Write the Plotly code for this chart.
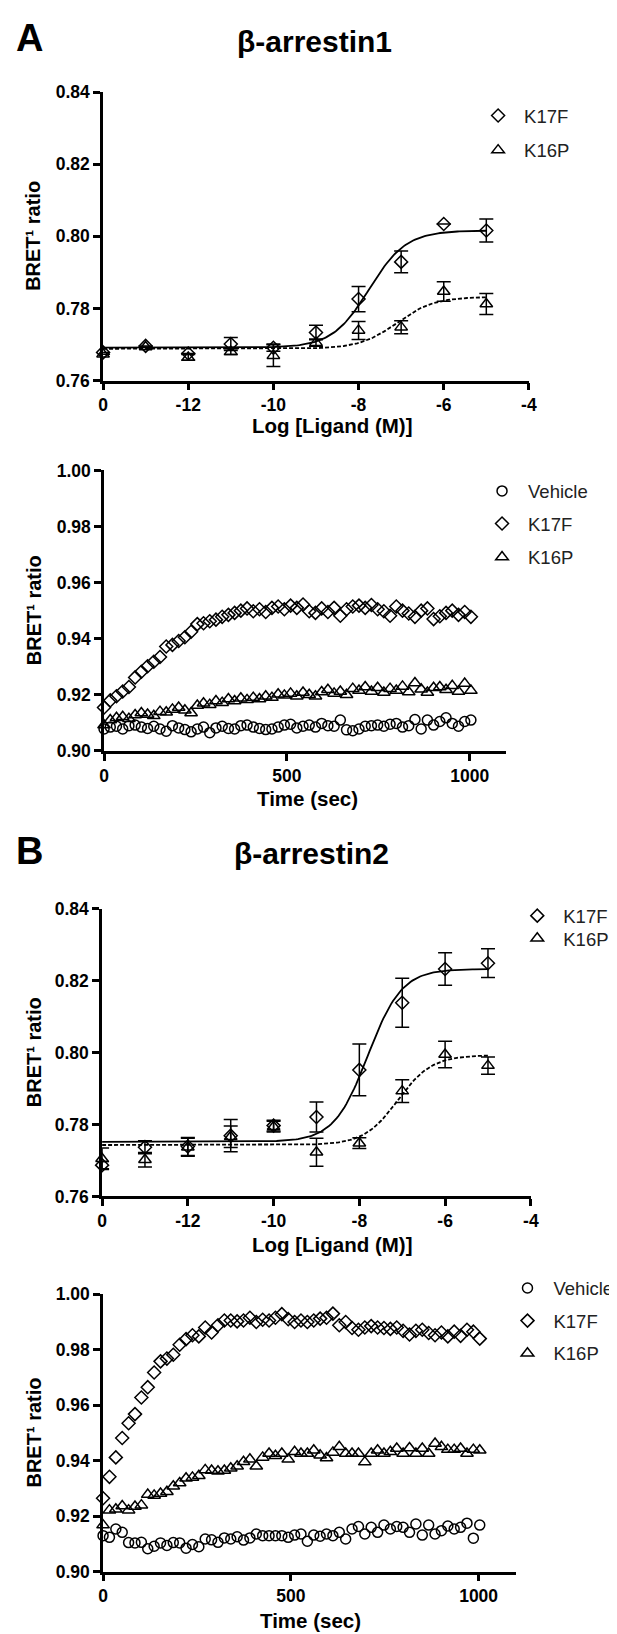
import plotly.graph_objects as go

# ---------------- data ----------------
LOG_DOSE = [-14, -13, -12, -11, -10, -9, -8, -7, -6, -5]   # -14 position is labelled "0" (vehicle)
X_TICKVALS = [-14, -12, -10, -8, -6, -4]
X_TICKTEXT = ["0", "-12", "-10", "-8", "-6", "-4"]

# beta-arrestin1 dose response
ARR1_K17F = [0.7678, 0.7696, 0.7675, 0.7701, 0.7691, 0.7733, 0.7826, 0.7929, 0.8034, 0.8016]
ARR1_K17F_ERR = [0, 0, 0, 0.0018, 0.0010, 0.0020, 0.0035, 0.0030, 0, 0.0032]
ARR1_K16P = [0.7673, 0.7693, 0.7664, 0.7680, 0.7669, 0.7705, 0.7739, 0.7748, 0.7847, 0.7812]
ARR1_K16P_ERR = [0, 0, 0.0008, 0.0008, 0.0030, 0.0010, 0.0025, 0.0018, 0.0027, 0.0029]

# beta-arrestin2 dose response
ARR2_K17F = [0.7687, 0.7737, 0.7739, 0.7769, 0.7797, 0.7821, 0.7952, 0.8139, 0.8233, 0.8249]
ARR2_K17F_ERR = [0.0010, 0.0018, 0.0025, 0.0045, 0.0015, 0.0042, 0.0072, 0.0068, 0.0045, 0.0040]
ARR2_K16P = [0.7705, 0.7702, 0.7737, 0.7766, 0.7794, 0.7723, 0.7748, 0.7893, 0.7995, 0.7964]
ARR2_K16P_ERR = [0.0030, 0.0020, 0.0025, 0.0030, 0.0015, 0.0039, 0.0015, 0.0032, 0.0037, 0.0024]

# fitted curve parameters (bottom, top, logEC50, hill)
FIT_ARR1_K17F = (0.7691, 0.8016, -7.75, 1.0)
FIT_ARR1_K16P = (0.7688, 0.7832, -7.10, 1.0)
FIT_ARR2_K17F = (0.7752, 0.8233, -7.80, 1.1)
FIT_ARR2_K16P = (0.7743, 0.7993, -7.10, 1.1)

# kinetics (time in sec)
TIME = [0, 17, 34, 51, 68, 85, 102, 119, 136, 153, 170, 187, 204, 221, 238, 255, 272, 289, 306, 323,
        340, 357, 374, 391, 408, 425, 442, 459, 476, 493, 510, 527, 544, 561, 578, 595, 612, 629, 646, 663,
        680, 697, 714, 731, 748, 765, 782, 799, 816, 833, 850, 867, 884, 901, 918, 935, 952, 969, 986, 1003]

KIN1_VEH = [0.9078, 0.9085, 0.9088, 0.9078, 0.9090, 0.9092, 0.9085, 0.9080, 0.9088, 0.9078,
            0.9070, 0.9090, 0.9082, 0.9076, 0.9068, 0.9078, 0.9085, 0.9065, 0.9082, 0.9088,
            0.9080, 0.9078, 0.9090, 0.9092, 0.9085, 0.9080, 0.9076, 0.9078, 0.9085, 0.9092,
            0.9095, 0.9082, 0.9088, 0.9092, 0.9085, 0.9098, 0.9090, 0.9088, 0.9110, 0.9075,
            0.9072, 0.9078, 0.9088, 0.9090, 0.9092, 0.9088, 0.9095, 0.9098, 0.9085, 0.9090,
            0.9112, 0.9078, 0.9110, 0.9092, 0.9105, 0.9118, 0.9098, 0.9088, 0.9105, 0.9110]
KIN1_K17F = [0.9155, 0.9180, 0.9195, 0.9212, 0.9228, 0.9262, 0.9282, 0.9302, 0.9318, 0.9335,
             0.9372, 0.9378, 0.9392, 0.9405, 0.9425, 0.9452, 0.9455, 0.9462, 0.9468, 0.9478,
             0.9485, 0.9492, 0.9500, 0.9508, 0.9498, 0.9505, 0.9495, 0.9510, 0.9515, 0.9505,
             0.9518, 0.9510, 0.9522, 0.9498, 0.9492, 0.9508, 0.9495, 0.9510, 0.9482, 0.9505,
             0.9515, 0.9518, 0.9510, 0.9520, 0.9505, 0.9498, 0.9482, 0.9515, 0.9500, 0.9490,
             0.9478, 0.9500, 0.9508, 0.9470, 0.9480, 0.9492, 0.9500, 0.9485, 0.9495, 0.9478]
KIN1_K16P = [0.9092, 0.9110, 0.9118, 0.9122, 0.9115, 0.9128, 0.9135, 0.9130, 0.9125, 0.9140,
             0.9138, 0.9148, 0.9155, 0.9145, 0.9135, 0.9162, 0.9170, 0.9165, 0.9178, 0.9172,
             0.9185, 0.9178, 0.9188, 0.9182, 0.9190, 0.9185, 0.9195, 0.9190, 0.9202, 0.9198,
             0.9205, 0.9195, 0.9208, 0.9200, 0.9195, 0.9210, 0.9218, 0.9205, 0.9212, 0.9200,
             0.9222, 0.9215, 0.9228, 0.9212, 0.9225, 0.9208, 0.9222, 0.9215, 0.9230, 0.9210,
             0.9242, 0.9220, 0.9208, 0.9225, 0.9228, 0.9218, 0.9232, 0.9212, 0.9240, 0.9215]

KIN2_VEH = [0.9130, 0.9124, 0.9154, 0.9142, 0.9105, 0.9104, 0.9106, 0.9083, 0.9092, 0.9104,
            0.9095, 0.9105, 0.9104, 0.9085, 0.9098, 0.9090, 0.9118, 0.9115, 0.9106, 0.9122,
            0.9118, 0.9126, 0.9114, 0.9122, 0.9136, 0.9130, 0.9130, 0.9130, 0.9130, 0.9124,
            0.9132, 0.9136, 0.9110, 0.9132, 0.9128, 0.9136, 0.9130, 0.9142, 0.9118, 0.9154,
            0.9163, 0.9136, 0.9160, 0.9142, 0.9168, 0.9154, 0.9163, 0.9160, 0.9142, 0.9172,
            0.9132, 0.9168, 0.9136, 0.9148, 0.9165, 0.9154, 0.9160, 0.9175, 0.9121, 0.9168]
KIN2_K17F = [0.9265, 0.9342, 0.9412, 0.9482, 0.9535, 0.9568, 0.9628, 0.9665, 0.9718, 0.9758,
             0.9768, 0.9782, 0.9818, 0.9838, 0.9852, 0.9848, 0.9880, 0.9862, 0.9888, 0.9905,
             0.9905, 0.9902, 0.9905, 0.9915, 0.9900, 0.9908, 0.9905, 0.9915, 0.9928, 0.9910,
             0.9900, 0.9905, 0.9900, 0.9905, 0.9912, 0.9915, 0.9930, 0.9888, 0.9900, 0.9878,
             0.9872, 0.9880, 0.9885, 0.9880, 0.9878, 0.9875, 0.9880, 0.9868, 0.9855, 0.9868,
             0.9872, 0.9860, 0.9852, 0.9862, 0.9848, 0.9865, 0.9850, 0.9872, 0.9865, 0.9840]
KIN2_K16P = [0.9168, 0.9222, 0.9225, 0.9237, 0.9222, 0.9235, 0.9240, 0.9278, 0.9275, 0.9282,
             0.9288, 0.9308, 0.9320, 0.9337, 0.9340, 0.9346, 0.9367, 0.9365, 0.9362, 0.9365,
             0.9373, 0.9380, 0.9396, 0.9405, 0.9380, 0.9412, 0.9426, 0.9418, 0.9426, 0.9405,
             0.9432, 0.9426, 0.9426, 0.9438, 0.9420, 0.9410, 0.9430, 0.9450, 0.9426, 0.9426,
             0.9426, 0.9395, 0.9426, 0.9438, 0.9426, 0.9432, 0.9444, 0.9426, 0.9446, 0.9426,
             0.9444, 0.9426, 0.9462, 0.9450, 0.9440, 0.9440, 0.9444, 0.9426, 0.9440, 0.9438]

# ---------------- layout helpers ----------------
W, H = 617, 1634
FONT = "Liberation Sans"


def fx(p):
    return p / W


def fy(p):
    return 1 - p / H


PANELS = {  # pixel boxes: (left, right, top, bottom)
    1: (92, 527, 75, 367),
    2: (93, 504, 458, 742),
    3: (91, 529, 902, 1193),
    4: (92, 514, 1292, 1573),
}

# legend item placements: (symbol-centre x, item centre y) in px
LEG_POS = {}
_leg_specs = [
    ("legend", 495, 100), ("legend2", 495, 135),
    ("legend3", 499, 480), ("legend4", 499, 513), ("legend5", 499, 547),
    ("legend6", 535, 910), ("legend7", 535, 933),
    ("legend8", 525, 1287), ("legend9", 525, 1320), ("legend10", 525, 1353),
]


def fit_curve(params, x0=-14.0, x1=-5.0, n=200):
    b, t, ec, h = params
    xs = [x0 + (x1 - x0) * i / (n - 1) for i in range(n)]
    ys = [b + (t - b) / (1 + 10 ** ((ec - x) * h)) for x in xs]
    return xs, ys


fig = go.Figure()

MK = dict(color="black", width=1.5)
SYM = {"Vehicle": ("circle-open", 10), "K17F": ("diamond-open", 10), "K16P": ("triangle-up-open", 11)}


def err(arr):
    return dict(type="data", array=arr, visible=True, color="black", thickness=1.5, width=7)


def marker(name):
    s, sz = SYM[name]
    return dict(symbol=s, size=sz, color="black", line=MK)


# panel 1
for params, dash in [(FIT_ARR1_K17F, "solid"), (FIT_ARR1_K16P, "4px,2px")]:
    xs, ys = fit_curve(params)
    fig.add_trace(go.Scatter(x=xs, y=ys, mode="lines", line=dict(color="black", width=1.8, dash=dash),
                             showlegend=False, xaxis="x", yaxis="y", hoverinfo="skip"))
fig.add_trace(go.Scatter(x=LOG_DOSE, y=ARR1_K17F, error_y=err(ARR1_K17F_ERR), mode="markers", name="K17F",
                         marker=marker("K17F"), xaxis="x", yaxis="y", legend="legend", cliponaxis=False))
fig.add_trace(go.Scatter(x=LOG_DOSE, y=ARR1_K16P, error_y=err(ARR1_K16P_ERR), mode="markers", name="K16P",
                         marker=marker("K16P"), xaxis="x", yaxis="y", legend="legend2", cliponaxis=False))

# panel 2
for name, vals, lg in [("Vehicle", KIN1_VEH, "legend3"), ("K17F", KIN1_K17F, "legend4"),
                       ("K16P", KIN1_K16P, "legend5")]:
    fig.add_trace(go.Scatter(x=TIME, y=vals, mode="markers", name=name, marker=marker(name),
                             xaxis="x2", yaxis="y2", legend=lg, cliponaxis=False))

# panel 3
for params, dash in [(FIT_ARR2_K17F, "solid"), (FIT_ARR2_K16P, "4px,2px")]:
    xs, ys = fit_curve(params)
    fig.add_trace(go.Scatter(x=xs, y=ys, mode="lines", line=dict(color="black", width=1.8, dash=dash),
                             showlegend=False, xaxis="x3", yaxis="y3", hoverinfo="skip"))
fig.add_trace(go.Scatter(x=LOG_DOSE, y=ARR2_K17F, error_y=err(ARR2_K17F_ERR), mode="markers", name="K17F",
                         marker=marker("K17F"), xaxis="x3", yaxis="y3", legend="legend6", cliponaxis=False))
fig.add_trace(go.Scatter(x=LOG_DOSE, y=ARR2_K16P, error_y=err(ARR2_K16P_ERR), mode="markers", name="K16P",
                         marker=marker("K16P"), xaxis="x3", yaxis="y3", legend="legend7", cliponaxis=False))

# panel 4
for name, vals, lg in [("Vehicle", KIN2_VEH, "legend8"), ("K17F", KIN2_K17F, "legend9"),
                       ("K16P", KIN2_K16P, "legend10")]:
    fig.add_trace(go.Scatter(x=TIME, y=vals, mode="markers", name=name, marker=marker(name),
                             xaxis="x4", yaxis="y4", legend=lg, cliponaxis=False))

AX = dict(showline=True, linecolor="black", linewidth=2.5, ticks="outside", ticklen=7, tickwidth=2.5,
          tickcolor="black", showgrid=False, zeroline=False, fixedrange=True,
          tickfont=dict(family=FONT, size=17.5, color="black", weight="bold"))


def xdom(k):
    l, r, t, b = PANELS[k]
    return [fx(l), fx(r)]


def ydom(k):
    l, r, t, b = PANELS[k]
    return [fy(b), fy(t)]


Y_DOSE = [0.76, 0.78, 0.80, 0.82, 0.84]
Y_KIN = [0.90, 0.92, 0.94, 0.96, 0.98, 1.00]

layout = dict(
    width=W, height=H, margin=dict(l=0, r=0, t=0, b=0),
    paper_bgcolor="white", plot_bgcolor="white",
    xaxis=dict(AX, domain=xdom(1), range=[-14, -4], tickvals=X_TICKVALS, ticktext=X_TICKTEXT, anchor="y"),
    yaxis=dict(AX, domain=ydom(1), range=[0.76, 0.84], tickvals=Y_DOSE, tickformat=".2f", anchor="x"),
    xaxis2=dict(AX, domain=xdom(2), range=[0, 1100], tickvals=[0, 500, 1000], anchor="y2"),
    yaxis2=dict(AX, domain=ydom(2), range=[0.90, 1.00], tickvals=Y_KIN, tickformat=".2f", anchor="x2"),
    xaxis3=dict(AX, domain=xdom(3), range=[-14, -4], tickvals=X_TICKVALS, ticktext=X_TICKTEXT, anchor="y3"),
    yaxis3=dict(AX, domain=ydom(3), range=[0.76, 0.84], tickvals=Y_DOSE, tickformat=".2f", anchor="x3"),
    xaxis4=dict(AX, domain=xdom(4), range=[0, 1100], tickvals=[0, 500, 1000], anchor="y4"),
    yaxis4=dict(AX, domain=ydom(4), range=[0.90, 1.00], tickvals=Y_KIN, tickformat=".2f", anchor="x4"),
)

LEG = dict(font=dict(family=FONT, size=18.5, color="#222"), bgcolor="rgba(0,0,0,0)", xanchor="left",
           yanchor="top", itemwidth=42, borderwidth=0)
for lname, sx, cy in _leg_specs:
    layout[lname] = dict(LEG, x=fx(sx - 26), y=fy(cy - 20))
fig.update_layout(**layout)

ann = []


def text(t, x, y, size, angle=0, xanchor="center"):
    ann.append(dict(text=t, x=fx(x), y=fy(y), xref="paper", yref="paper", showarrow=False,
                    xanchor=xanchor, yanchor="middle", textangle=angle,
                    font=dict(family=FONT, size=size, color="black")))


text("<b>A</b>", 1, 20, 38, xanchor="left")
text("<b>β-arrestin1</b>", 308, 24, 30)
text("<b>B</b>", 1, 843, 38, xanchor="left")
text("<b>β-arrestin2</b>", 305, 846, 30)
text("<b>Log [Ligand (M)]</b>", 326, 413, 20.5)
text("<b>Time (sec)</b>", 301, 790, 20.5)
text("<b>Log [Ligand (M)]</b>", 326, 1242, 20.5)
text("<b>Time (sec)</b>", 304, 1622, 20.5)
for k in PANELS:
    l, r, t, b = PANELS[k]
    text("<b>BRET¹ ratio</b>", 21, (t + b) / 2, 20)
    ann[-1]["textangle"] = -90
fig.update_layout(annotations=ann)

fig.write_html("out.html")
